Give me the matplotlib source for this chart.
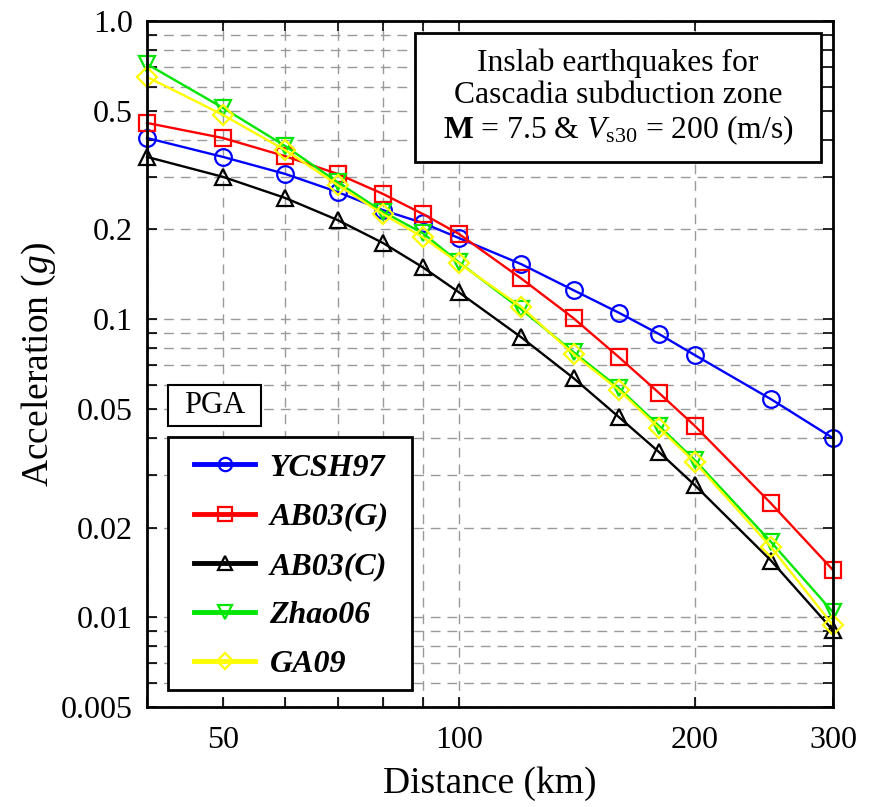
import matplotlib
matplotlib.use("Agg")
from matplotlib import pyplot as plt
from matplotlib.patches import Rectangle
from matplotlib.ticker import FixedLocator, NullFormatter, LogLocator

plt.rcParams['font.family'] = ['Liberation Serif', 'DejaVu Serif']
plt.rcParams['mathtext.fontset'] = 'custom'
plt.rcParams['mathtext.rm'] = 'Liberation Serif'
plt.rcParams['mathtext.it'] = 'Liberation Serif:italic'
plt.rcParams['mathtext.bf'] = 'Liberation Serif:bold'

distance = [40, 50, 60, 70, 80, 90, 100, 120, 140, 160, 180, 200, 250, 300]

ycsh97 = [0.405, 0.350, 0.307, 0.267, 0.232, 0.210, 0.187, 0.153, 0.125, 0.105,
          0.0891, 0.0757, 0.0539, 0.0399]
ab03_g = [0.455, 0.405, 0.352, 0.307, 0.263, 0.225, 0.193, 0.137, 0.1007, 0.0745,
          0.0565, 0.0438, 0.0241, 0.0144]
ab03_c = [0.350, 0.300, 0.255, 0.215, 0.180, 0.149, 0.123, 0.0870, 0.0634, 0.0469,
          0.0358, 0.0277, 0.0155, 0.00904]
zhao06 = [0.717, 0.511, 0.381, 0.288, 0.229, 0.194, 0.155, 0.108, 0.0775, 0.0587,
          0.0438, 0.0336, 0.0179, 0.0104]
ga09 = [0.649, 0.484, 0.369, 0.282, 0.225, 0.188, 0.154, 0.110, 0.0763, 0.0578,
        0.0431, 0.0331, 0.0172, 0.0094]

series = [
    ("YCSH97", ycsh97, "#0000ff", "o"),
    ("AB03(G)", ab03_g, "#ff0000", "s"),
    ("AB03(C)", ab03_c, "#000000", "^"),
    ("Zhao06", zhao06, "#00e600", "v"),
    ("GA09", ga09, "#ffff00", "D"),
]

x_ticks = [50, 100, 200, 300]
y_ticks = [0.005, 0.01, 0.02, 0.05, 0.1, 0.2, 0.5, 1.0]
y_labels = ["0.005", "0.01", "0.02", "0.05", "0.1", "0.2", "0.5", "1.0"]

fig = plt.figure(figsize=(8.73, 8.07), dpi=100)
ax = fig.add_axes([0.1684, 0.1239, 0.7858, 0.8501])
ax.set_xscale("log")
ax.set_yscale("log")
ax.set_xlim(40, 300)
ax.set_ylim(0.005, 1.0)

for name, vals, col, mk in series:
    ms = 10.5 if mk == "D" else 12
    ax.plot(distance, vals, color=col, lw=1.7, marker=mk, ms=ms,
            mfc="none", mec=col, mew=1.6, label=name, zorder=3, clip_on=False)

ax.xaxis.set_major_locator(FixedLocator(x_ticks))
ax.set_xticklabels([str(t) for t in x_ticks])
ax.xaxis.set_minor_locator(LogLocator(base=10, subs=range(2, 10)))
ax.xaxis.set_minor_formatter(NullFormatter())
ax.yaxis.set_major_locator(FixedLocator(y_ticks))
ax.set_yticklabels(y_labels)
ax.yaxis.set_minor_locator(LogLocator(base=10, subs=range(2, 10)))
ax.yaxis.set_minor_formatter(NullFormatter())

ax.grid(True, which="both", color="#999999", ls=(0, (7, 5)), lw=1.0, zorder=0)
ax.tick_params(which="both", direction="in", top=True, right=True,
               labelsize=23, width=1.2, length=7)
ax.tick_params(axis="x", which="both", pad=14)
ax.tick_params(axis="y", which="both", pad=10)
for s in ax.spines.values():
    s.set_linewidth(2)
    s.set_zorder(4)

ax.set_xlabel("Distance (km)", fontsize=27, labelpad=8)
ax.set_ylabel("Acceleration ($g$)", fontsize=27, labelpad=2)

# annotation box, top right
ax.add_patch(Rectangle((0.3907, 0.7945), 0.5918, 0.188, transform=ax.transAxes,
                       fc="white", ec="black", lw=2, zorder=5))
ax.text(0.6866, 0.888,
        "Inslab earthquakes for\nCascadia subduction zone\n"
        r"$\mathbf{M}$ = 7.5 & $V_{\mathrm{s30}}$ = 200 (m/s)",
        transform=ax.transAxes, ha="center", va="center", fontsize=22.8,
        linespacing=1.12, zorder=6)

# PGA box
ax.add_patch(Rectangle((0.0306, 0.4096), 0.1356, 0.0598, transform=ax.transAxes,
                       fc="white", ec="black", lw=1.5, zorder=5))
ax.text(0.0984, 0.4395, "PGA", transform=ax.transAxes, ha="center", va="center",
        fontsize=22, zorder=6)

# legend frame + entries
ax.add_patch(Rectangle((0.0306, 0.0248), 0.3557, 0.3688, transform=ax.transAxes,
                       fc="white", ec="black", lw=2, zorder=5))
leg = ax.legend(loc="upper left", bbox_to_anchor=(0.069, 0.370), borderaxespad=0,
                frameon=False,
                prop={"family": "Liberation Serif", "weight": "bold",
                      "style": "italic", "size": 23},
                handlelength=1.9, labelspacing=0.62, borderpad=0,
                handletextpad=0.45, markerscale=0.8)
for h in leg.get_lines():
    h.set_linewidth(3.5)
leg.set_zorder(7)

fig.savefig("out.png", dpi=100)
